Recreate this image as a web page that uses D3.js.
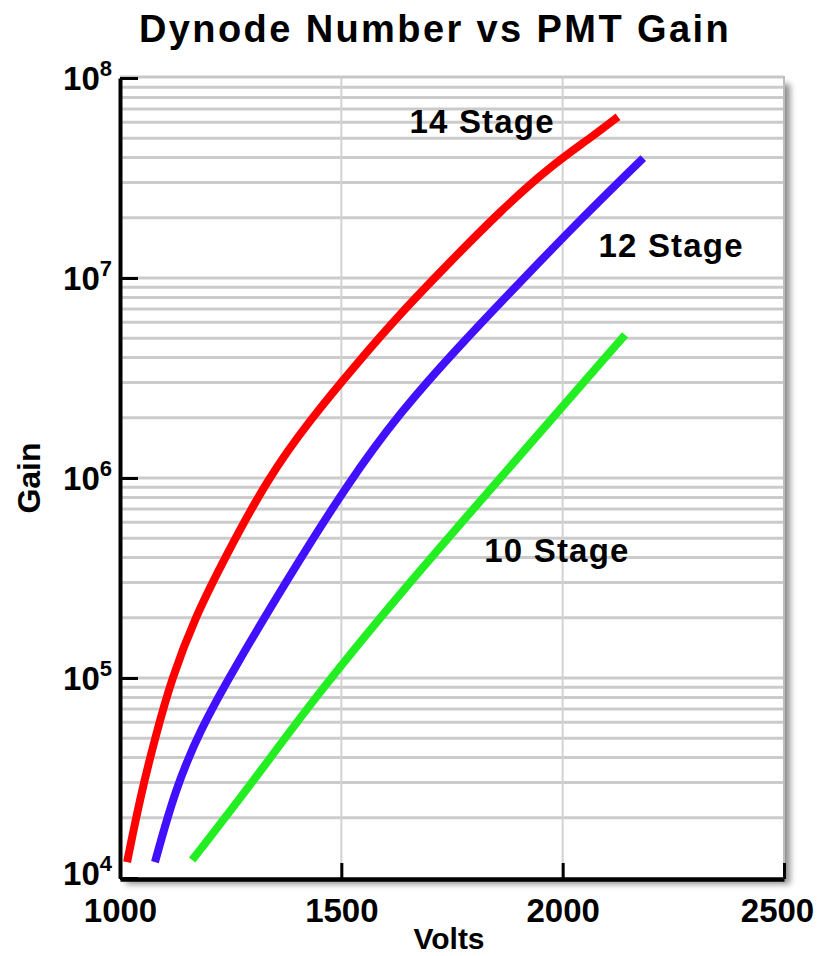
<!DOCTYPE html>
<html>
<head>
<meta charset="utf-8">
<script src="https://cdn.jsdelivr.net/npm/d3@7"></script>
<style>
  html, body { margin: 0; padding: 0; background: #fff; }
  svg { display: block; }
  text { font-family: "Liberation Sans", Arial, Helvetica, sans-serif; font-weight: bold; fill: #000; }
</style>
</head>
<body>
<svg id="chart" width="819" height="956"></svg>
<script>
// ---- data ----
const xTicks = [1000, 1500, 2000, 2500];
const yTicks = [1e4, 1e5, 1e6, 1e7, 1e8];
const yTickExponents = ["4", "5", "6", "7", "8"];

const stage14Volts = [1016, 1045, 1079, 1117, 1169, 1237, 1334, 1429, 1531, 1632, 1745, 1858, 1971, 2062, 2125];
const stage14Gain  = [1.2e4, 2.5e4, 5.0e4, 1.0e5, 2.0e5, 4.0e5, 1.0e6, 1.95e6, 3.65e6, 6.6e6, 1.2e7, 2.15e7, 3.6e7, 5.0e7, 6.4e7];

const stage12Volts = [1079, 1124, 1181, 1253, 1377, 1513, 1633, 1768, 1904, 2039, 2182];
const stage12Gain  = [1.2e4, 2.75e4, 5.5e4, 1.07e5, 3.09e5, 9.3e5, 2.14e6, 4.62e6, 9.55e6, 1.95e7, 3.98e7];

const stage10Volts = [1163, 1294, 1436, 1633, 1859, 2141];
const stage10Gain  = [1.23e4, 2.9e4, 7.8e4, 2.66e5, 1.0e6, 5.2e6];

const seriesNames  = ["14 Stage", "12 Stage", "10 Stage"];
const seriesColors = ["#ff0000", "#4010ff", "#22ee22"];
const labelVolts   = [1818, 2245, 1987];
const labelGain    = [5.3e7, 1.27e7, 3.8e5];

const titleText = "Dynode Number vs PMT Gain";
const xTitle = "Volts";
const yTitle = "Gain";

// ---- layout ----
const svg = d3.select("#chart");
const pLeft = 120, pRight = 784, pTop = 78, pBottom = 878;

const x = d3.scaleLinear().domain([1000, 2500]).range([pLeft, pRight]);
const y = d3.scaleLog().domain([1e4, 1e8]).range([pBottom, pTop]);

// shadow filter
const defs = svg.append("defs");
const f = defs.append("filter").attr("id", "shadow").attr("x", "-5%").attr("y", "-5%").attr("width", "115%").attr("height", "115%");
f.append("feDropShadow").attr("dx", 6).attr("dy", 6).attr("stdDeviation", 3)
  .attr("flood-color", "#000").attr("flood-opacity", 0.45);

// title
svg.append("text").attr("x", 435).attr("y", 42).attr("text-anchor", "middle")
  .style("font-size", "38px").style("letter-spacing", "2.4px").text(titleText);

// plot background with shadow
svg.append("rect").attr("x", pLeft).attr("y", pTop).attr("width", pRight - pLeft).attr("height", pBottom - pTop)
  .attr("fill", "#fff").attr("filter", "url(#shadow)");

// horizontal grid (log minor + major)
const gridVals = y.ticks().filter(v => v > 1e4 && v < 1e8);
svg.append("g").selectAll("line").data(gridVals).join("line")
  .attr("x1", pLeft).attr("x2", pRight)
  .attr("y1", d => y(d)).attr("y2", d => y(d))
  .attr("stroke", "#cbcbcb").attr("stroke-width", 3);

// vertical grid
svg.append("g").selectAll("line").data([1500, 2000]).join("line")
  .attr("x1", d => x(d)).attr("x2", d => x(d))
  .attr("y1", pTop).attr("y2", pBottom)
  .attr("stroke", "#d2d2d2").attr("stroke-width", 2);

// top & right borders
svg.append("line").attr("x1", pLeft).attr("x2", pRight).attr("y1", y(1e8) - 1).attr("y2", y(1e8) - 1)
  .attr("stroke", "#c8c8c8").attr("stroke-width", 3);
svg.append("line").attr("x1", x(2500)).attr("x2", x(2500)).attr("y1", pTop - 2).attr("y2", pBottom)
  .attr("stroke", "#bdbdbd").attr("stroke-width", 2);

// curves
const seriesVolts = [stage14Volts, stage12Volts, stage10Volts];
const seriesGain = [stage14Gain, stage12Gain, stage10Gain];
const line = d3.line().x(d => x(d[0])).y(d => y(d[1])).curve(d3.curveBasis);
seriesNames.forEach((name, i) => {
  const pts = seriesVolts[i].map((v, j) => [v, seriesGain[i][j]]);
  svg.append("path").datum(pts).attr("d", line)
    .attr("fill", "none").attr("stroke", seriesColors[i]).attr("stroke-width", 8)
    .attr("stroke-linecap", "butt").attr("stroke-linejoin", "round");
});

// series labels
svg.append("g").selectAll("text").data(seriesNames).join("text")
  .attr("x", (d, i) => x(labelVolts[i])).attr("y", (d, i) => y(labelGain[i]))
  .attr("text-anchor", "middle").style("font-size", "33px").style("letter-spacing", "1.2px")
  .text(d => d);

// x axis
const xAxis = d3.axisBottom(x).tickValues(xTicks).tickSizeInner(-16).tickSizeOuter(0).tickPadding(20)
  .tickFormat(d3.format("d"));
const gx = svg.append("g").attr("transform", `translate(0,${pBottom + 1})`).call(xAxis);
gx.select(".domain").attr("stroke", "#000").attr("stroke-width", 4.5);
gx.selectAll(".tick line").attr("stroke", "#000").attr("stroke-width", 3);
gx.selectAll(".tick text").style("font-size", "33px").attr("font-family", null)
  .attr("dx", d => d === 2500 ? -7 : 0);

// y axis
const yAxis = d3.axisLeft(y).tickValues(yTicks).tickSizeInner(-18).tickSizeOuter(0).tickFormat(() => "");
const gy = svg.append("g").attr("transform", `translate(${pLeft},0)`).call(yAxis);
gy.select(".domain").attr("stroke", "#000").attr("stroke-width", 4);
gy.selectAll(".tick line").attr("stroke", "#000").attr("stroke-width", 3);
gy.selectAll(".tick text").each(function(d, i) {
  const t = d3.select(this).attr("x", -8).attr("y", d === 1e4 ? 6 : 11).attr("dy", null).attr("text-anchor", "end")
    .attr("font-family", null);
  t.append("tspan").style("font-size", "33px").text("10");
  t.append("tspan").style("font-size", "22px").attr("dy", -14).text(yTickExponents[i]);
});

// axis titles
svg.append("text").attr("x", 449).attr("y", 949).attr("text-anchor", "middle")
  .style("font-size", "30px").text(xTitle);
svg.append("text").attr("transform", "translate(40,478) rotate(-90)").attr("text-anchor", "middle")
  .style("font-size", "32px").text(yTitle);
</script>
</body>
</html>
